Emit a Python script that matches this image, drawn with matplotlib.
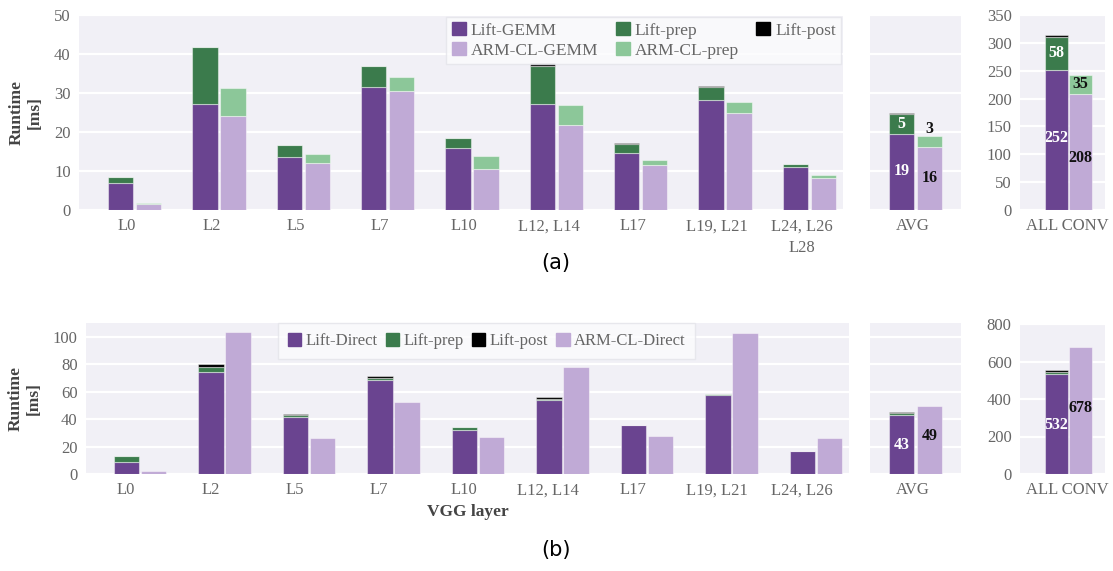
import numpy as np
import matplotlib.pyplot as plt
from matplotlib.patches import Patch

# VGG layers
layers_a = ["L0", "L2", "L5", "L7", "L10", "L12, L14", "L17", "L19, L21", "L24, L26\nL28"]
layers_b = ["L0", "L2", "L5", "L7", "L10", "L12, L14", "L17", "L19, L21", "L24, L26"]

# (a) GEMM based convolution, runtime in ms
lift_gemm = [7.0, 27.2, 13.6, 31.5, 15.9, 27.3, 14.5, 28.1, 10.9]
lift_prep_a = [1.4, 14.7, 3.0, 5.5, 2.5, 9.6, 2.4, 3.5, 1.0]
lift_post_a = [0.0, 0.0, 0.0, 0.0, 0.0, 0.9, 0.2, 0.3, 0.0]
arm_gemm = [1.45, 24.2, 12.1, 30.4, 10.6, 21.7, 11.5, 25.0, 8.3]
arm_prep = [0.45, 7.2, 2.2, 3.7, 3.2, 5.3, 1.2, 2.6, 0.6]

avg_a = {"lift": [19.4, 5.1, 0.3], "arm": [16.2, 2.9]}
all_a = {"lift": [252, 58, 4], "arm": [208, 35]}

# (b) direct convolution, runtime in ms
lift_direct = [8.5, 74.1, 41.5, 68.5, 32.4, 54.1, 35.4, 57.3, 16.6]
lift_prep_b = [4.4, 3.5, 1.4, 1.5, 1.5, 0.8, 0.2, 1.0, 0.2]
lift_post_b = [0.5, 2.6, 1.0, 1.7, 0.2, 1.0, 0.0, 0.2, 0.0]
arm_direct = [2.0, 103.7, 26.1, 52.4, 26.6, 77.8, 27.8, 102.9, 26.1]

avg_b = {"lift": [42.9, 1.7, 0.8], "arm": [49.3]}
all_b = {"lift": [532, 14, 9], "arm": [678]}

C_LIFT = "#6a4490"
C_PREP = "#3b7b4c"
C_POST = "#000000"
C_ARM = "#c0aad6"
C_ARMPREP = "#8cc799"
BG = "#f1f0f6"
TXT = "#666666"

plt.rcParams["font.family"] = ["Liberation Serif", "DejaVu Serif"]
plt.rcParams["font.size"] = 12

fig = plt.figure(figsize=(11.13, 5.71), dpi=100)
W, H = 1113.0, 571.0


def add_ax(x0, y0, x1, y1):
    ax = fig.add_axes([x0 / W, 1 - y1 / H, (x1 - x0) / W, (y1 - y0) / H])
    ax.set_facecolor(BG)
    for s in ax.spines.values():
        s.set_visible(False)
    ax.grid(axis="y", color="white", linewidth=1.6)
    ax.set_axisbelow(True)
    ax.tick_params(length=0, colors=TXT, labelsize=12, pad=6)
    return ax


def stack(ax, x, parts, colors, w):
    bottom = np.zeros_like(np.asarray(parts[0], dtype=float))
    for v, c in zip(parts, colors):
        v = np.asarray(v, dtype=float)
        ax.bar(x, v, w, bottom=bottom, color=c, edgecolor=(1, 1, 1, 0.45), linewidth=0.8)
        bottom = bottom + v


def label(ax, x, y, v, color):
    ax.text(x, y, f"{v:.0f}", ha="center", va="center", color=color,
            fontsize=11.5, fontweight="bold")


def style_legend(leg):
    leg.get_frame().set_facecolor("#fcfcfd")
    leg.get_frame().set_edgecolor("#e4e4ea")
    for t in leg.get_texts():
        t.set_color(TXT)


W_BAR = 0.30

# ---- (a) ----
ax = add_ax(79, 15, 843, 210)
xs = np.arange(len(layers_a))
stack(ax, xs - 0.077, [lift_gemm, lift_prep_a, lift_post_a], [C_LIFT, C_PREP, C_POST], W_BAR)
stack(ax, xs + 0.255, [arm_gemm, arm_prep], [C_ARM, C_ARMPREP], W_BAR)
ax.set_xlim(-0.57, 8.49)
ax.set_ylim(0, 50)
ax.set_xticks(xs)
ax.set_xticklabels(layers_a, linespacing=1.5)
ax.set_ylabel("Runtime\n[ms]", fontweight="bold", color="#444444", fontsize=12.5, labelpad=8)
handles = [Patch(color=C_LIFT, label="Lift-GEMM"), Patch(color=C_ARM, label="ARM-CL-GEMM"),
           Patch(color=C_PREP, label="Lift-prep"), Patch(color=C_ARMPREP, label="ARM-CL-prep"),
           Patch(color=C_POST, label="Lift-post")]
leg = ax.legend(handles=handles, ncol=3, loc="upper right", bbox_to_anchor=(1.0, 1.0),
                borderaxespad=0.1, frameon=True, fancybox=False, handlelength=0.8,
                handleheight=0.8, handletextpad=0.3, columnspacing=1.0, labelspacing=0.2,
                fontsize=12.5, borderpad=0.3)
style_legend(leg)

ax = add_ax(870, 15, 961, 210)
g, p, q = avg_a["lift"]
stack(ax, -0.137, [g, p, q], [C_LIFT, C_PREP, C_POST], W_BAR)
ag, ap = avg_a["arm"]
stack(ax, 0.196, [ag, ap], [C_ARM, C_ARMPREP], W_BAR)
ax.set_xlim(-0.51, 0.57)
ax.set_ylim(0, 50)
ax.set_xticks([0])
ax.set_xticklabels(["AVG"])
ax.set_yticks(range(0, 51, 10))
ax.set_yticklabels([])
label(ax, -0.137, g * 0.52, g, "white")
label(ax, -0.137, g + p / 2, p, "white")
label(ax, 0.196, ag / 2, ag, "#111111")
label(ax, 0.196, ag + ap + 1.6, ap, "#111111")

ax = add_ax(1020, 15, 1105, 210)
g, p, q = all_a["lift"]
stack(ax, -0.124, [g, p, q], [C_LIFT, C_PREP, C_POST], 0.27)
ag, ap = all_a["arm"]
stack(ax, 0.158, [ag, ap], [C_ARM, C_ARMPREP], 0.27)
ax.set_xlim(-0.553, 0.447)
ax.set_ylim(0, 350)
ax.set_yticks(range(0, 351, 50))
ax.set_xticks([0])
ax.set_xticklabels(["ALL CONV"])
label(ax, -0.124, g * 0.51, g, "white")
label(ax, -0.124, g + p / 2, p, "white")
label(ax, 0.158, ag * 0.45, ag, "#111111")
label(ax, 0.158, ag + ap / 2, ap, "#111111")

# ---- (b) ----
ax = add_ax(86, 323, 849, 474)
xs = np.arange(len(layers_b))
stack(ax, xs + 0.01, [lift_direct, lift_prep_b, lift_post_b], [C_LIFT, C_PREP, C_POST], W_BAR)
stack(ax, xs + 0.33, [arm_direct], [C_ARM], W_BAR)
ax.set_xlim(-0.47, 8.56)
ax.set_ylim(0, 110)
ax.set_yticks(range(0, 101, 20))
ax.set_xticks(xs)
ax.set_xticklabels(layers_b)
ax.set_ylabel("Runtime\n[ms]", fontweight="bold", color="#444444", fontsize=12.5, labelpad=8)
ax.set_xlabel("VGG layer", fontweight="bold", color="#444444", fontsize=12.5, labelpad=4)
handles = [Patch(color=C_LIFT, label="Lift-Direct"), Patch(color=C_PREP, label="Lift-prep"),
           Patch(color=C_POST, label="Lift-post"), Patch(color=C_ARM, label="ARM-CL-Direct")]
leg = ax.legend(handles=handles, ncol=4, loc="upper center", bbox_to_anchor=(0.525, 1.0),
                borderaxespad=0.0, frameon=True, fancybox=False, handlelength=0.8,
                handleheight=0.8, handletextpad=0.25, columnspacing=0.5,
                fontsize=12, borderpad=0.6)
style_legend(leg)

ax = add_ax(870, 323, 961, 474)
g, p, q = avg_b["lift"]
stack(ax, -0.137, [g, p, q], [C_LIFT, C_PREP, C_POST], W_BAR)
ag = avg_b["arm"][0]
stack(ax, 0.196, [ag], [C_ARM], W_BAR)
ax.set_xlim(-0.51, 0.57)
ax.set_ylim(0, 110)
ax.set_yticks(range(0, 101, 20))
ax.set_yticklabels([])
ax.set_xticks([0])
ax.set_xticklabels(["AVG"])
label(ax, -0.137, g * 0.5, g, "white")
label(ax, 0.196, ag * 0.56, ag, "#111111")

ax = add_ax(1020, 324, 1105, 474)
g, p, q = all_b["lift"]
stack(ax, -0.124, [g, p, q], [C_LIFT, C_PREP, C_POST], 0.27)
ag = all_b["arm"][0]
stack(ax, 0.158, [ag], [C_ARM], 0.27)
ax.set_xlim(-0.553, 0.447)
ax.set_ylim(0, 800)
ax.set_yticks(range(0, 801, 200))
ax.set_xticks([0])
ax.set_xticklabels(["ALL CONV"])
label(ax, -0.124, g * 0.49, g, "white")
label(ax, 0.158, ag * 0.52, ag, "#111111")

fig.text(556 / W, 1 - 263 / H, "(a)", ha="center", va="center", fontsize=15, family="DejaVu Sans")
fig.text(556 / W, 1 - 550 / H, "(b)", ha="center", va="center", fontsize=15, family="DejaVu Sans")

fig.savefig("out.png", dpi=100, facecolor="white")
